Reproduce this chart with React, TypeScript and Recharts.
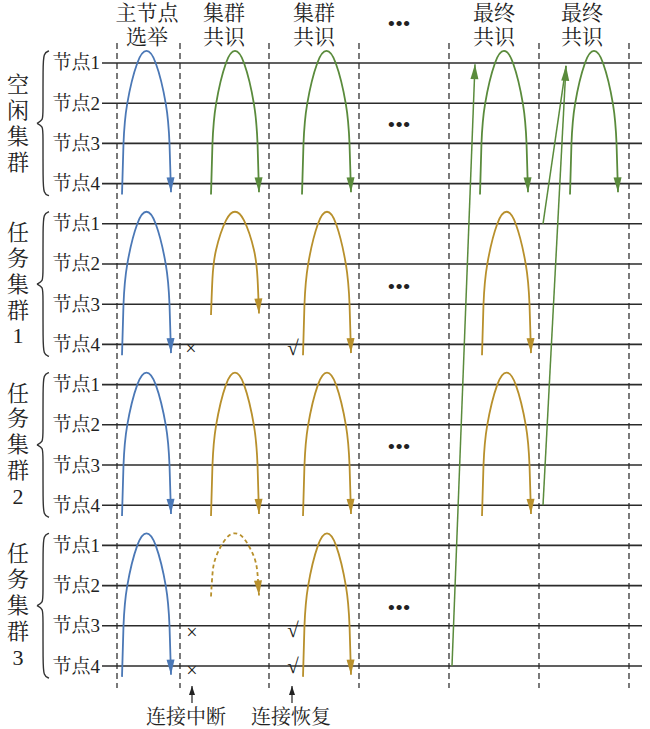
import { ComposedChart, Line, Scatter, XAxis, YAxis, ReferenceLine } from 'recharts';

// y axis counts node rows: row 0 is 节点1 of the first cluster, 16 rows in all
const ROW_DOMAIN: [number, number] = [-1.567, 16.567];
const X_DOMAIN: [number, number] = [0, 650];

const GROUP_NAMES = ['空闲集群', '任务集群1', '任务集群2', '任务集群3'];
const NODE_NAMES = ['节点1', '节点2', '节点3', '节点4'];
const PHASE_EDGES = [117, 180, 269, 359, 449, 539, 629];
const PHASE_TITLES = [
  ['主节点', '选举'],
  ['集群', '共识'],
  ['集群', '共识'],
  ['最终', '共识'],
  ['最终', '共识'],
];
const PHASE_TITLE_X = [147, 224, 314, 494, 582];
const TITLE_ROWS = [-1.24, -0.65];
const ELLIPSIS_X = 399;
const ELLIPSIS_ROWS = [-0.97, 1.53, 5.55, 9.55, 13.55];

// arc outline: u = share of half width, v = share of height
const ARC_U = [-1, -0.94, -0.79, -0.375, 0, 0.375, 0.79, 0.94, 1];
const ARC_V = [1, 0.65, 0.37, 0.084, 0, 0.084, 0.37, 0.65, 0.985];

const COLORS = { blue: '#4b78b6', green: '#5a8b3c', gold: '#b8902c' };

type Arc = { group: number; x0: number; x1: number; node: number; color: keyof typeof COLORS; dashed?: boolean };
const ARCS: Arc[] = [
  { group: 0, x0: 122, x1: 171, node: 3, color: 'blue' },
  { group: 0, x0: 211, x1: 259, node: 3, color: 'green' },
  { group: 0, x0: 302, x1: 351, node: 3, color: 'green' },
  { group: 0, x0: 480, x1: 528, node: 3, color: 'green' },
  { group: 0, x0: 570, x1: 618, node: 3, color: 'green' },
  { group: 1, x0: 122, x1: 171, node: 3, color: 'blue' },
  { group: 1, x0: 211, x1: 259, node: 2, color: 'gold' },
  { group: 1, x0: 303, x1: 351, node: 3, color: 'gold' },
  { group: 1, x0: 482, x1: 531, node: 3, color: 'gold' },
  { group: 2, x0: 122, x1: 171, node: 3, color: 'blue' },
  { group: 2, x0: 211, x1: 259, node: 3, color: 'gold' },
  { group: 2, x0: 303, x1: 351, node: 3, color: 'gold' },
  { group: 2, x0: 482, x1: 531, node: 3, color: 'gold' },
  { group: 3, x0: 122, x1: 171, node: 3, color: 'blue' },
  { group: 3, x0: 211, x1: 259, node: 1, color: 'gold', dashed: true },
  { group: 3, x0: 303, x1: 351, node: 3, color: 'gold' },
];

// green sync links up to 空闲集群 节点1
const LINKS = [
  { x: [452, 475], row: [15, 0.03], arrow: true },
  { x: [543, 566], row: [4, 0.07], arrow: false },
  { x: [543, 566], row: [11, 0.07], arrow: true },
];

const CROSS_MARKS = [
  { x: 191, row: 7.09 },
  { x: 192, row: 14.15 },
  { x: 192, row: 15.1 },
];
const CHECK_MARKS = [
  { x: 293, row: 7.1 },
  { x: 293, row: 14.11 },
  { x: 293, row: 15.01 },
];
const NOTES = [
  { text: '连接中断', x: 186 },
  { text: '连接恢复', x: 291 },
];
const NOTE_ROW = 16.27;
const NOTE_ARROW_ROWS = [15.92, 15.5];

// brace half, rows relative to the cluster's first node
const BRACE_X = [49, 43.5, 43, 43, 43, 37];
const BRACE_ROW = [-0.3, -0.25, 0.1, 1.25, 1.42, 1.5];

const FONT = "'Liberation Serif', 'Times New Roman', 'Noto Serif CJK SC', 'Noto Sans CJK SC', serif";
const INK = '#222';

const arcSeries = ARCS.map((a) => {
  const cx = (a.x0 + a.x1) / 2;
  const hw = (a.x1 - a.x0) / 2;
  const top = a.group * 4 - 0.3;
  const bottom = a.group * 4 + a.node + 0.27;
  return {
    color: COLORS[a.color],
    dashed: !!a.dashed,
    points: ARC_U.map((u, i) => ({
      x: cx + u * hw,
      y: top + ARC_V[i] * (bottom - top),
      tip: i === ARC_U.length - 1,
    })),
  };
});

const braceSeries = GROUP_NAMES.flatMap((_, g) => {
  const upper = BRACE_X.map((x, i) => ({ x, y: g * 4 + BRACE_ROW[i] }));
  const lower = BRACE_X.map((x, i) => ({ x, y: g * 4 + 3 - BRACE_ROW[i] }));
  return [upper, lower];
});

type TextItem = { x: number; y: number; text: string; size: number; anchor: string };
const TEXTS: TextItem[] = [];
PHASE_TITLES.forEach((lines, i) =>
  lines.forEach((t, j) => TEXTS.push({ x: PHASE_TITLE_X[i], y: TITLE_ROWS[j], text: t, size: 21, anchor: 'middle' })),
);
ELLIPSIS_ROWS.forEach((r) => TEXTS.push({ x: ELLIPSIS_X, y: r, text: '•••', size: 22, anchor: 'middle' }));
GROUP_NAMES.forEach((name, g) => {
  NODE_NAMES.forEach((n, k) => TEXTS.push({ x: 100, y: g * 4 + k, text: n, size: 19, anchor: 'end' }));
  const chars = Array.from(name);
  chars.forEach((c, k) =>
    TEXTS.push({ x: 18, y: g * 4 + 1.5 + (k - (chars.length - 1) / 2) * 0.645, text: c, size: 22, anchor: 'middle' }),
  );
});
CROSS_MARKS.forEach((m) => TEXTS.push({ x: m.x, y: m.row, text: '×', size: 20, anchor: 'middle' }));
CHECK_MARKS.forEach((m) => TEXTS.push({ x: m.x, y: m.row, text: '√', size: 21, anchor: 'middle' }));
NOTES.forEach((n) => TEXTS.push({ x: n.x, y: NOTE_ROW, text: n.text, size: 20, anchor: 'middle' }));

const TextShape = (props: any) => {
  const { cx, cy, payload } = props;
  return (
    <text x={cx} y={cy} textAnchor={payload.anchor} dominantBaseline="central" fontSize={payload.size} fontFamily={FONT} fill={INK}>
      {payload.text}
    </text>
  );
};

function makeArrow(color: string, len: number, half: number) {
  return (props: any) => {
    const { cx, cy, index, points, payload } = props;
    const key = `tip-${index}-${cx}-${cy}`;
    if (!payload || !payload.tip || cx == null) return <g key={key} />;
    let dx = 0;
    let dy = payload.up ? -1 : 1;
    if (points && points[index - 1]) {
      dx = cx - points[index - 1].x;
      dy = cy - points[index - 1].y;
    }
    const l = Math.hypot(dx, dy) || 1;
    dx /= l;
    dy /= l;
    const bx = cx - dx * len;
    const by = cy - dy * len;
    const pts = `${cx},${cy} ${bx - dy * half},${by + dx * half} ${bx + dy * half},${by - dx * half}`;
    return <polygon key={key} points={pts} fill={color} stroke="none" />;
  };
}

export default function App() {
  return (
    <div style={{ position: 'absolute', left: 0, top: 0, background: '#fff' }}>
      <ComposedChart width={650} height={729} margin={{ top: 0, right: 0, bottom: 0, left: 0 }}>
        <XAxis type="number" dataKey="x" domain={X_DOMAIN} allowDataOverflow hide />
        <YAxis type="number" domain={ROW_DOMAIN} allowDataOverflow reversed hide />

        {PHASE_EDGES.map((x) => (
          <ReferenceLine
            key={`edge-${x}`}
            segment={[{ x, y: -0.5 }, { x, y: 15.55 }]}
            stroke="#333"
            strokeWidth={1.3}
            strokeDasharray="6 4"
            ifOverflow="visible"
          />
        ))}
        {Array.from({ length: 16 }, (_, r) => (
          <ReferenceLine
            key={`row-${r}`}
            segment={[{ x: 102, y: r }, { x: 642, y: r }]}
            stroke="#2b2b2b"
            strokeWidth={1.6}
            ifOverflow="visible"
          />
        ))}

        {braceSeries.map((pts, i) => (
          <Line
            key={`brace-${i}`}
            data={pts}
            dataKey="y"
            type="basis"
            stroke="#333"
            strokeWidth={1.4}
            dot={false}
            activeDot={false}
            isAnimationActive={false}
          />
        ))}

        {arcSeries.map((s, i) => (
          <Line
            key={`arc-${i}`}
            data={s.points}
            dataKey="y"
            type="natural"
            stroke={s.color}
            strokeWidth={1.8}
            strokeDasharray={s.dashed ? '4 3' : undefined}
            dot={makeArrow(s.color, 15, 4)}
            activeDot={false}
            isAnimationActive={false}
          />
        ))}

        {LINKS.map((l, i) => (
          <Line
            key={`link-${i}`}
            data={[
              { x: l.x[0], y: l.row[0] },
              { x: l.x[1], y: l.row[1], tip: l.arrow, up: true },
            ]}
            dataKey="y"
            type="linear"
            stroke={COLORS.green}
            strokeWidth={1.5}
            dot={makeArrow(COLORS.green, 15, 4)}
            activeDot={false}
            isAnimationActive={false}
          />
        ))}

        {NOTES.map((n, i) => (
          <Line
            key={`note-${i}`}
            data={[
              { x: n.x + (i === 0 ? 6 : 1), y: NOTE_ARROW_ROWS[0] },
              { x: n.x + (i === 0 ? 6 : 1), y: NOTE_ARROW_ROWS[1], tip: true, up: true },
            ]}
            dataKey="y"
            type="linear"
            stroke="#222"
            strokeWidth={1.2}
            dot={makeArrow('#222', 9, 3)}
            activeDot={false}
            isAnimationActive={false}
          />
        ))}

        <Scatter data={TEXTS} dataKey="y" shape={TextShape} isAnimationActive={false} />
      </ComposedChart>
    </div>
  );
}
